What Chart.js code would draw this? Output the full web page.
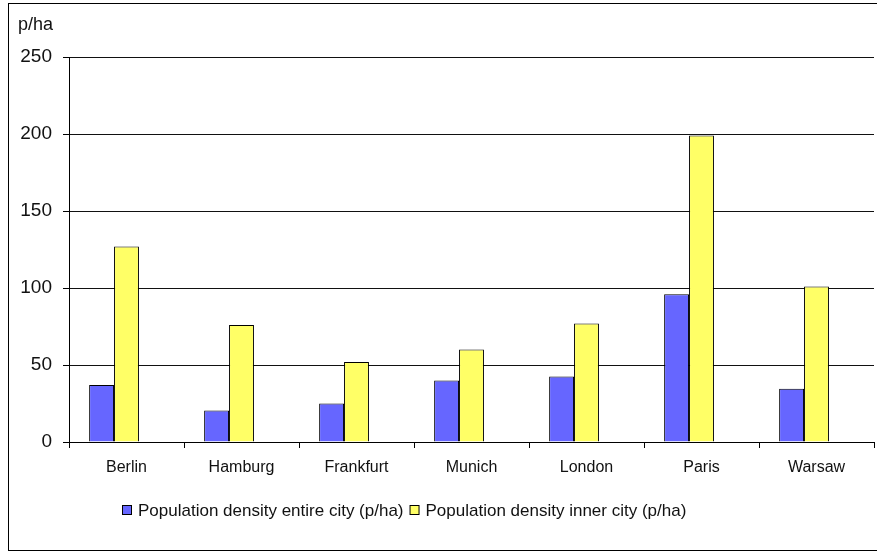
<!DOCTYPE html>
<html>
<head>
<meta charset="utf-8">
<script src="https://cdn.jsdelivr.net/npm/chart.js@4/dist/chart.umd.min.js"></script>
<style>
  html, body { margin: 0; padding: 0; background: #fff; }
  #wrap { width: 877px; height: 554px; position: relative; }
</style>
</head>
<body>
<div id="wrap"><canvas id="c" width="877" height="554"></canvas></div>
<script>
// Population density by city, persons per hectare
const cities = ['Berlin', 'Hamburg', 'Frankfurt', 'Munich', 'London', 'Paris', 'Warsaw'];
const entireCity = [37, 20.5, 25, 40, 42.5, 96, 34.5];
const innerCity = [127, 76, 52, 60, 77, 199, 101];
const emptySlot = [null, null, null, null, null, null, null];
const yTicks = [0, 50, 100, 150, 200, 250];
const unitLabel = 'p/ha';
const seriesNames = ['Population density entire city (p/ha)', 'Population density inner city (p/ha)'];

const TEXT = '#111';
const FONT = '"Liberation Sans", Arial, sans-serif';

// frame around the whole chart plus the unit caption
const framePlugin = {
  id: 'frame',
  beforeDraw(chart) {
    const ctx = chart.ctx;
    ctx.save();
    ctx.fillStyle = '#fff';
    ctx.fillRect(0, 0, chart.width, chart.height);
    ctx.strokeStyle = '#000';
    ctx.lineWidth = 1;
    ctx.strokeRect(8.5, 3.5, chart.width + 10, 547);
    ctx.restore();
  },
  afterDraw(chart) {
    const ctx = chart.ctx;
    ctx.save();
    ctx.fillStyle = TEXT;
    ctx.font = '18px ' + FONT;
    ctx.textBaseline = 'alphabetic';
    ctx.fillText(unitLabel, 18, 30);
    ctx.restore();
  }
};

// legend row: a bordered square swatch followed by the series name
const legendPlugin = {
  id: 'rowLegend',
  afterDraw(chart) {
    const ctx = chart.ctx;
    ctx.save();
    ctx.font = '17px ' + FONT;
    ctx.textBaseline = 'middle';
    let x = 122;
    const y = 511;
    chart.data.datasets.forEach(ds => {
      if (!ds.label) return;
      ctx.fillStyle = ds.backgroundColor;
      ctx.fillRect(x + 0.5, y - 5.5, 9, 9);
      ctx.strokeStyle = '#000';
      ctx.lineWidth = 1;
      ctx.strokeRect(x + 0.5, y - 5.5, 9, 9);
      ctx.fillStyle = TEXT;
      ctx.fillText(ds.label, x + 16, y);
      x += 16 + ctx.measureText(ds.label).width + 6;
    });
    ctx.restore();
  }
};

new Chart(document.getElementById('c'), {
  type: 'bar',
  data: {
    labels: cities,
    datasets: [
      { label: seriesNames[0], data: entireCity, backgroundColor: '#6666FF', borderColor: '#000', borderWidth: 1 },
      { label: seriesNames[1], data: innerCity, backgroundColor: '#FFFF66', borderColor: '#000', borderWidth: 1 },
      { label: '', data: emptySlot, backgroundColor: 'rgba(0,0,0,0)', borderWidth: 0 }
    ]
  },
  options: {
    responsive: false,
    animation: false,
    devicePixelRatio: 1,
    layout: { padding: { left: 0, right: 3, top: 57, bottom: 59 } },
    datasets: { bar: { categoryPercentage: 0.65, barPercentage: 1.0 } },
    plugins: {
      legend: { display: false },
      tooltip: { enabled: false },
      title: { display: false }
    },
    scales: {
      x: {
        offset: true,
        grid: { offset: true, drawOnChartArea: false, color: '#000', tickLength: 6, tickColor: '#000' },
        border: { display: true, color: '#000', width: 1 },
        ticks: { color: TEXT, font: { family: FONT, size: 16 }, padding: 10, maxRotation: 0 },
        afterFit(scale) { scale.height = 53; }
      },
      y: {
        min: 0,
        max: 250,
        afterBuildTicks(scale) { scale.ticks = yTicks.map(v => ({ value: v })); },
        grid: { color: '#111', lineWidth: 1, tickLength: 6, tickColor: '#000' },
        border: { display: true, color: '#000', width: 1 },
        ticks: { color: TEXT, font: { family: FONT, size: 19 }, padding: 11 },
        afterFit(scale) { scale.width = 69; }
      }
    }
  },
  plugins: [framePlugin, legendPlugin]
});
</script>
</body>
</html>
